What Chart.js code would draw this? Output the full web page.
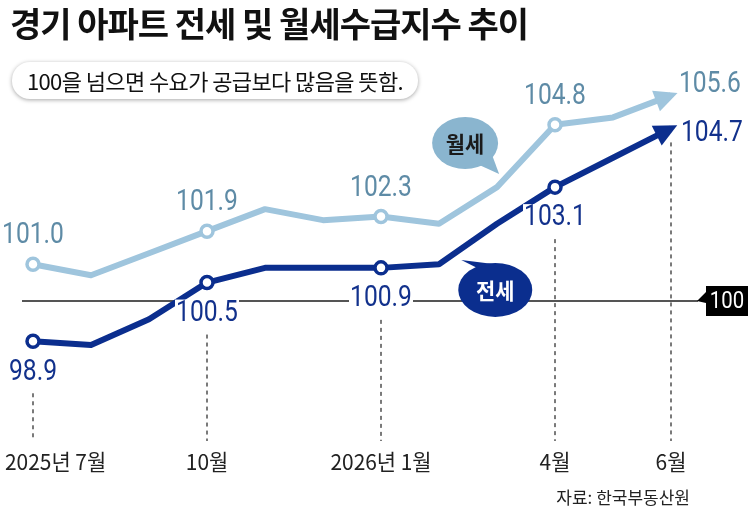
<!DOCTYPE html>
<html><head><meta charset="utf-8">
<script src="https://cdn.jsdelivr.net/npm/chart.js@4.4.0/dist/chart.umd.min.js"></script>
<style>
html,body{margin:0;padding:0;background:#fff;}
#wrap{position:relative;width:750px;height:514px;overflow:hidden;font-family:'Noto Sans CJK KR',sans-serif;}
canvas{position:absolute;left:0;top:0;}
#title{position:absolute;left:10px;top:0px;font-size:34px;font-weight:700;color:#111;letter-spacing:-1px;white-space:nowrap;line-height:46px;}
#note{position:absolute;left:12px;top:62px;width:406px;height:37px;border-radius:18px;background:#fff;box-shadow:0 1px 4px rgba(0,0,0,0.35);font-size:22px;line-height:37px;text-align:center;color:#111;letter-spacing:-0.6px;white-space:nowrap;}
#src{position:absolute;right:60px;top:484px;font-size:17px;color:#222;white-space:nowrap;}
</style></head>
<body>
<div id="wrap">
<canvas id="c" width="750" height="514"></canvas>
<div id="title">경기 아파트 전세 및 월세수급지수 추이</div>
<div id="note">100을 넘으면 수요가 공급보다 많음을 뜻함.</div>
<div id="src">자료: 한국부동산원</div>
</div>
<script>
// ---- data ----
const months = ['2025-07','2025-08','2025-09','2025-10','2025-11','2025-12','2026-01','2026-02','2026-03','2026-04','2026-05','2026-06'];
const tickLabels = ['2025년 7월','','','10월','','','2026년 1월','','','4월','','6월'];
const wolse = [101.0,100.7,101.3,101.9,102.5,102.2,102.3,102.1,103.1,104.8,105.0,105.6];
const jeonse = [98.9,98.8,99.5,100.5,100.9,100.9,100.9,101.0,102.1,103.1,103.9,104.7];
const labeledIdx = [0,3,6,9,11];
const baseline = 100;
const seriesNames = ['월세','전세'];

const C_W = '#9fc5dd', C_WT = '#5e8ba6', C_WB = '#8ab5cf';
const C_J = '#0b2e8e', C_JT = '#12318c';

function pr(i){ return (labeledIdx.includes(i) && i !== months.length-1) ? 6 : 0; }

function txt(ctx, s, x, y, font, color, align, sx){
  ctx.save(); ctx.font = font; ctx.fillStyle = color; ctx.textBaseline = 'middle'; ctx.textAlign = align;
  ctx.translate(x, y); ctx.scale(sx, 1); ctx.fillText(s, 0, 0); ctx.restore();
}

const deco = {
  id: 'deco',
  beforeDatasetsDraw(chart){
    const {ctx, scales:{x, y}} = chart;
    const yb = y.getPixelForValue(baseline);
    ctx.save();
    ctx.strokeStyle = '#555'; ctx.lineWidth = 2;
    ctx.beginPath(); ctx.moveTo(22, yb); ctx.lineTo(698, yb); ctx.stroke();
    ctx.setLineDash([4,4]); ctx.lineWidth = 1.3; ctx.strokeStyle = '#333';
    labeledIdx.forEach(i => {
      const px = x.getPixelForValue(i);
      const py = y.getPixelForValue(jeonse[i]);
      const top = (i === months.length-1) ? py + 14 : py + 52;
      ctx.beginPath(); ctx.moveTo(px, top); ctx.lineTo(px, 441); ctx.stroke();
    });
    ctx.restore();
    // 100 tag
    ctx.save();
    ctx.fillStyle = '#000';
    ctx.beginPath(); ctx.moveTo(697, yb); ctx.lineTo(706, yb-9); ctx.lineTo(706, yb-15); ctx.lineTo(748, yb-15);
    ctx.lineTo(748, yb+15); ctx.lineTo(706, yb+15); ctx.lineTo(706, yb+2); ctx.closePath(); ctx.fill();
    ctx.restore();
    txt(ctx, '100', 727, yb+1, '24px Roboto, "Liberation Sans", sans-serif', '#fff', 'center', 0.85);
    // x tick labels
    ctx.save(); ctx.font = '22px "Noto Sans CJK KR", sans-serif';
    tickLabels.forEach((t, i) => {
      if (!t) return;
      const w = ctx.measureText(t).width * 0.95;
      const px = Math.max(x.getPixelForValue(i), 5 + w/2);
      txt(ctx, t, px, 462, '22px "Noto Sans CJK KR", sans-serif', '#222', 'center', 0.95);
    });
    ctx.restore();
  },
  afterDatasetsDraw(chart){
    const {ctx, scales:{x, y}} = chart;
    const n = months.length - 1;
    // arrowheads
    [[wolse, C_W], [jeonse, C_J]].forEach(([d, col]) => {
      const x1 = x.getPixelForValue(n-1), y1 = y.getPixelForValue(d[n-1]);
      const x2 = x.getPixelForValue(n), y2 = y.getPixelForValue(d[n]);
      const a = Math.atan2(y2-y1, x2-x1);
      ctx.save(); ctx.translate(x2, y2); ctx.rotate(a);
      ctx.fillStyle = col; ctx.beginPath();
      ctx.moveTo(7, 0); ctx.lineTo(-16, -11); ctx.lineTo(-16, 11); ctx.closePath(); ctx.fill();
      ctx.restore();
    });
    const NF = '29px Roboto, "Liberation Sans", sans-serif';
    // labels
    labeledIdx.forEach(i => {
      const px = x.getPixelForValue(i);
      const pw = y.getPixelForValue(wolse[i]);
      const pj = y.getPixelForValue(jeonse[i]);
      if (i === n) {
        txt(ctx, wolse[i].toFixed(1), px+8, pw-11, NF, C_WT, 'left', 0.85);
        txt(ctx, jeonse[i].toFixed(1), px+10, pj+5, NF, C_JT, 'left', 0.85);
      } else {
        txt(ctx, wolse[i].toFixed(1), px, pw-28, NF, C_WT, 'center', 0.85);
        ctx.save(); ctx.fillStyle = '#fff'; ctx.fillRect(px-32, pj+17, 64, 26); ctx.restore();
        txt(ctx, jeonse[i].toFixed(1), px, pj+31, NF, C_JT, 'center', 0.85);
      }
    });
    // bubbles
    const bw = {x: x.getPixelForValue(7.45), y: y.getPixelForValue(104.3)};
    ctx.save(); ctx.fillStyle = C_WB;
    ctx.beginPath(); ctx.ellipse(bw.x, bw.y, 33, 26, 0, 0, Math.PI*2); ctx.fill();
    ctx.beginPath(); ctx.moveTo(bw.x+12, bw.y+21); ctx.lineTo(bw.x+27, bw.y+12); ctx.lineTo(bw.x+34, bw.y+31); ctx.closePath(); ctx.fill();
    ctx.restore();
    txt(ctx, seriesNames[0], bw.x, bw.y+1, 'bold 22px "Noto Sans CJK KR", sans-serif', '#1a1a1a', 'center', 0.95);
    const bj = {x: x.getPixelForValue(7.97), y: y.getPixelForValue(100.3)};
    ctx.save(); ctx.fillStyle = C_J;
    ctx.beginPath(); ctx.ellipse(bj.x, bj.y, 37, 27, 0, 0, Math.PI*2); ctx.fill();
    ctx.beginPath(); ctx.moveTo(bj.x-18, bj.y-22); ctx.lineTo(bj.x-2, bj.y-26); ctx.lineTo(bj.x-34, bj.y-30); ctx.closePath(); ctx.fill();
    ctx.restore();
    txt(ctx, seriesNames[1], bj.x, bj.y+1, 'bold 22px "Noto Sans CJK KR", sans-serif', '#fff', 'center', 0.95);
  }
};

new Chart(document.getElementById('c'), {
  type: 'line',
  data: {
    labels: months,
    datasets: [
      {label: seriesNames[0], data: wolse, borderColor: C_W, borderWidth: 6, tension: 0,
       borderJoinStyle: 'round', borderCapStyle: 'butt',
       pointRadius: ctx => pr(ctx.dataIndex), pointBackgroundColor: '#fff', pointBorderColor: C_W, pointBorderWidth: 3.5},
      {label: seriesNames[1], data: jeonse, borderColor: C_J, borderWidth: 6, tension: 0,
       borderJoinStyle: 'round', borderCapStyle: 'butt',
       pointRadius: ctx => pr(ctx.dataIndex), pointBackgroundColor: '#fff', pointBorderColor: C_J, pointBorderWidth: 3.5}
    ]
  },
  options: {
    responsive: false, animation: false, events: [],
    layout: {padding: {left: 33, right: 79, top: 44, bottom: 103}},
    scales: {x: {display: false, offset: false}, y: {display: false, min: 97, max: 107}},
    plugins: {legend: {display: false}, tooltip: {enabled: false}}
  },
  plugins: [deco]
});
</script>
</body></html>
